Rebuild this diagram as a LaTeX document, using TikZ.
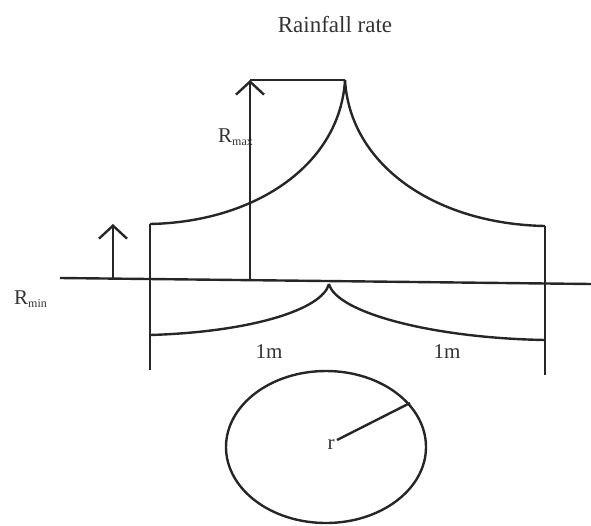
\documentclass[tikz,border=0pt]{standalone}
\usepackage{fontspec}
\setmainfont{Liberation Serif}
\usetikzlibrary{arrows.meta}
\begin{document}
\begin{tikzpicture}[x=1pt,y=-1pt,
  ln/.style={line width=2.4pt,draw=black!85},
  up/.style={ln,-{Straight Barb[length=13pt,width=28pt,line width=2.4pt]}},
  lbl/.style={font=\fontsize{21}{24}\selectfont,text=black!80,inner sep=0pt}]
\useasboundingbox (0,0) rectangle (591,525);
% coordinates
\coordinate (axL) at (60,278);
\coordinate (axR) at (591,284);
\coordinate (lTop) at (150,224);
\coordinate (lBot) at (150,370);
\coordinate (rTop) at (545,226);
\coordinate (rBot) at (545,375);
\coordinate (peak) at (345,80);
\coordinate (topL) at (250,80);
\coordinate (bArr) at (250,279);
\coordinate (sBase) at (113,279);
\coordinate (sTip) at (113,224);
\coordinate (lowL) at (150,335);
\coordinate (lowC) at (329,284);
\coordinate (lowR) at (545,340);
\coordinate (ctr) at (337,440);
\coordinate (rim) at (410,403);
% axis
\draw[ln] (axL) -- (axR);
% verticals
\draw[ln] (lTop) -- (lBot);
\draw[ln] (rTop) -- (rBot);
% upper curve
\draw[ln] (lTop) .. controls (255,222) and (340,165) .. (peak);
\draw[ln] (peak) .. controls (350,165) and (435,224) .. (rTop);
% top line and arrows
\draw[ln] (topL) -- (peak);
\draw[up] (bArr) -- (topL);
\draw[up] (sBase) -- (sTip);
% lower curve
\draw[ln] (lowL) .. controls (250,332) and (322,310) .. (lowC);
\draw[ln] (lowC) .. controls (336,312) and (430,338) .. (lowR);
% circle
\draw[ln] (326,447) ellipse [x radius=100, y radius=76];
\draw[ln] (ctr) -- (rim);
% labels
\node[lbl,font=\fontsize{23}{26}\selectfont] (title) at (335,25) {Rainfall rate};
\node[lbl,anchor=base west] (rmax) at (218,142) {R\textsubscript{\fontsize{12}{12}\selectfont max}};
\node[lbl,anchor=base west] (rmin) at (14,304) {R\textsubscript{\fontsize{12}{12}\selectfont min}};
\node[lbl] (m1) at (269,352) {1m};
\node[lbl] (m2) at (447,352) {1m};
\node[lbl,anchor=base] (r) at (331,449) {r};
\end{tikzpicture}
\end{document}
